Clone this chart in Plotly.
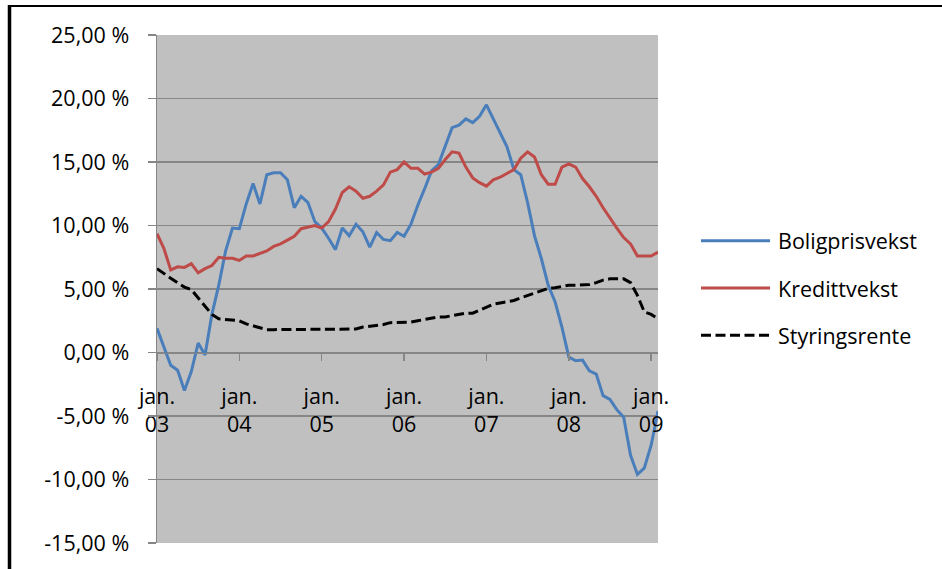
import plotly.graph_objects as go

# ---- data ----
month_names = ["jan.", "feb.", "mar.", "apr.", "mai", "jun.", "jul.", "aug.", "sep.", "okt.", "nov.", "des."]
months = [f"{m} {y:02d}" for y in range(3, 10) for m in month_names][:74]

boligprisvekst = [1.9, 0.45, -1.0, -1.4, -3.0, -1.5, 0.75, -0.2, 3.0, 5.3,
                  8.0, 9.8, 9.75, 11.7, 13.3, 11.7, 14.0, 14.15, 14.15, 13.6,
                  11.4, 12.3, 11.8, 10.3, 9.8, 9.0, 8.1, 9.8, 9.2, 10.1,
                  9.5, 8.3, 9.45, 8.9, 8.8, 9.45, 9.15, 10.1, 11.6, 12.9,
                  14.3, 14.8, 16.2, 17.7, 17.9, 18.4, 18.1, 18.6, 19.5, 18.4,
                  17.3, 16.2, 14.4, 14.0, 11.8, 9.2, 7.4, 5.3, 4.0, 2.0,
                  -0.35, -0.65, -0.6, -1.45, -1.7, -3.4, -3.7, -4.5, -5.1, -8.1,
                  -9.6, -9.1, -7.3, -4.6]

kredittvekst = [9.35, 8.2, 6.5, 6.75, 6.7, 7.0, 6.27, 6.6, 6.85, 7.5,
                7.42, 7.42, 7.25, 7.6, 7.6, 7.8, 8.0, 8.35, 8.55, 8.85,
                9.15, 9.75, 9.9, 10.0, 9.8, 10.3, 11.3, 12.6, 13.05, 12.7,
                12.15, 12.3, 12.7, 13.2, 14.2, 14.4, 15.0, 14.5, 14.5, 14.05,
                14.2, 14.5, 15.2, 15.8, 15.7, 14.6, 13.75, 13.37, 13.1, 13.6,
                13.8, 14.1, 14.4, 15.3, 15.8, 15.4, 14.0, 13.25, 13.25, 14.6,
                14.85, 14.6, 13.7, 13.05, 12.3, 11.4, 10.55, 9.8, 9.05, 8.55,
                7.6, 7.6, 7.6, 7.9]

styringsrente = [6.6, 6.2, 5.85, 5.5, 5.15, 4.95, 4.3, 3.6, 3.0, 2.65,
                 2.6, 2.6, 2.5, 2.25, 2.1, 1.9, 1.8, 1.8, 1.8, 1.8,
                 1.8, 1.8, 1.8, 1.8, 1.8, 1.8, 1.8, 1.8, 1.8, 1.85,
                 2.0, 2.05, 2.1, 2.2, 2.35, 2.35, 2.35, 2.4, 2.5, 2.6,
                 2.75, 2.8, 2.8, 2.9, 3.05, 3.1, 3.1, 3.35, 3.6, 3.8,
                 3.9, 4.0, 4.1, 4.3, 4.5, 4.7, 4.85, 5.05, 5.1, 5.2,
                 5.3, 5.3, 5.3, 5.35, 5.5, 5.7, 5.8, 5.8, 5.8, 5.5,
                 4.5, 3.2, 3.0, 2.65]

series_names = ["Boligprisvekst", "Kredittvekst", "Styringsrente"]

y_tick_values = [25, 20, 15, 10, 5, 0, -5, -10, -15]
y_tick_labels = ["25,00 %", "20,00 %", "15,00 %", "10,00 %", "5,00 %",
                 "0,00 %", "-5,00 %", "-10,00 %", "-15,00 %"]

x_tick_values = [months[i] for i in range(0, 74, 12)]
x_tick_labels = ["jan.<br>03", "jan.<br>04", "jan.<br>05", "jan.<br>06",
                 "jan.<br>07", "jan.<br>08", "jan.<br>09"]

# ---- styles ----
BLUE = "#4A7EBB"
RED = "#BE4B48"
BLACK = "#000000"
GRID = "#868686"
FONT = "Open Sans"
FS = 21.5
DASH = "10px,4.5px"

fig = go.Figure()
fig.add_trace(go.Scatter(x=months, y=boligprisvekst, name=series_names[0], mode="lines",
                         line=dict(color=BLUE, width=3), showlegend=False))
fig.add_trace(go.Scatter(x=months, y=kredittvekst, name=series_names[1], mode="lines",
                         line=dict(color=RED, width=3), showlegend=False))
fig.add_trace(go.Scatter(x=months, y=styringsrente, name=series_names[2], mode="lines",
                         line=dict(color=BLACK, width=3, dash=DASH), showlegend=False))

W, H = 942, 569
L, R, T, B = 157, 284, 35, 24
pw, ph = W - L - R, H - T - B


def px(x):
    return (x - L) / pw


def py(y):
    return (H - B - y) / ph


# manual legend
legend_y = [241.5, 289, 336.5]
legend_colors = [BLUE, RED, BLACK]
legend_dash = ["solid", "solid", DASH]
shapes = []
annotations = []
for name, yy, c, d in zip(series_names, legend_y, legend_colors, legend_dash):
    shapes.append(dict(type="line", xref="paper", yref="paper",
                       x0=px(701), x1=px(770), y0=py(yy), y1=py(yy),
                       line=dict(color=c, width=3, dash=d)))
    annotations.append(dict(xref="paper", yref="paper", x=px(776), y=py(yy),
                            text=name, showarrow=False, xanchor="left", yanchor="middle",
                            font=dict(family=FONT, size=FS, color="black")))

# outer frame (left and top black lines)
shapes.append(dict(type="line", xref="paper", yref="paper",
                   x0=px(9.5), x1=px(9.5), y0=py(5), y1=py(575),
                   line=dict(color="black", width=3.5)))
shapes.append(dict(type="line", xref="paper", yref="paper",
                   x0=px(8), x1=px(945), y0=py(6), y1=py(6),
                   line=dict(color="black", width=2)))

fig.update_layout(
    width=W, height=H,
    margin=dict(l=L, r=R, t=T, b=B, pad=0),
    paper_bgcolor="white",
    plot_bgcolor="#C0C0C0",
    font=dict(family=FONT, size=FS, color="black"),
    shapes=shapes,
    annotations=annotations,
    showlegend=False,
)

fig.update_xaxes(
    type="category",
    range=[0, 73],
    tickvals=x_tick_values,
    ticktext=x_tick_labels,
    showgrid=False,
    zeroline=False,
    showline=True, linecolor=GRID, linewidth=1.5,
    ticks="outside", ticklen=7, tickcolor=GRID, tickwidth=1.5,
    anchor="free", position=15 / 40,
    ticklabelstandoff=17,
    tickfont=dict(family=FONT, size=FS, color="black"),
)

fig.update_yaxes(
    range=[-15, 25],
    tickvals=y_tick_values,
    ticktext=y_tick_labels,
    showgrid=True, gridcolor=GRID, gridwidth=1.5,
    zeroline=False,
    showline=True, linecolor=GRID, linewidth=1.5,
    ticks="outside", ticklen=8, tickcolor=GRID, tickwidth=1.5,
    ticklabelstandoff=14,
    tickfont=dict(family=FONT, size=FS, color="black"),
)

fig.write_html(
    "out.html",
    config={"displayModeBar": False, "staticPlot": True},
    post_script="document.body.style.margin='0';document.body.style.overflow='hidden';",
)
